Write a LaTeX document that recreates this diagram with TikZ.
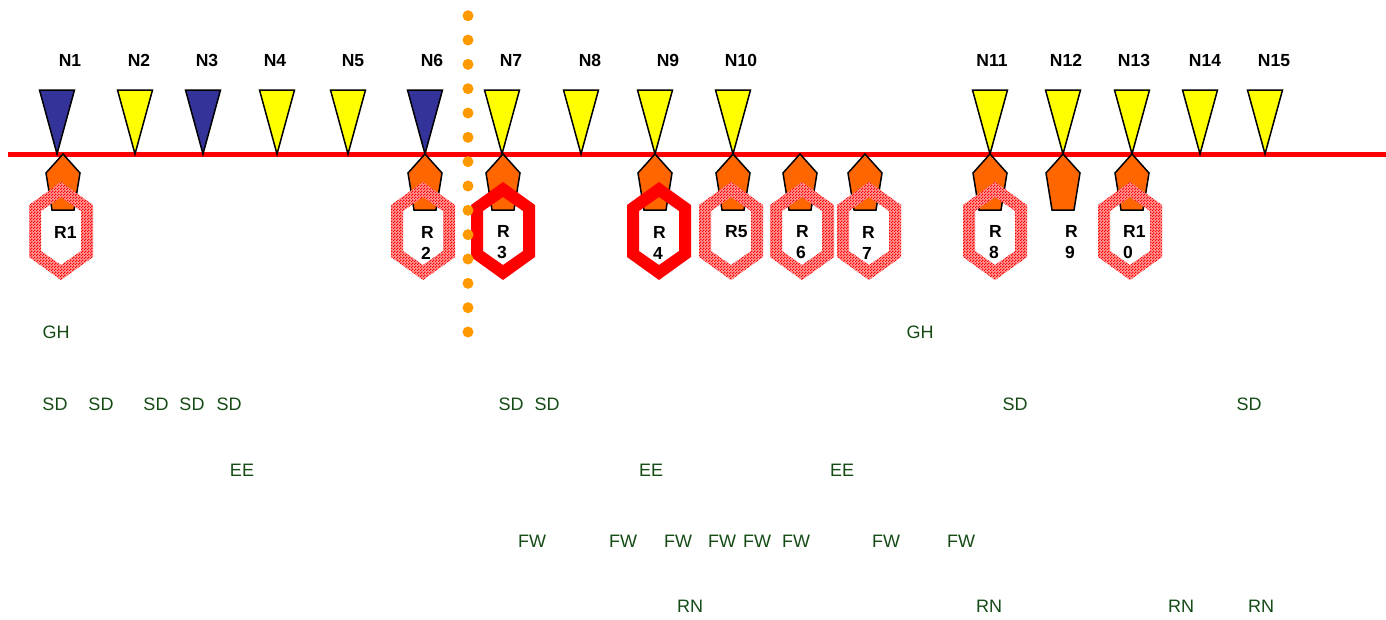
\documentclass[tikz,border=0pt]{standalone}
\usepackage{fontspec}
\setmainfont{Liberation Sans}
\usepackage{xcolor}
\usepackage{tikz}
\usetikzlibrary{patterns}
\definecolor{markblue}{RGB}{51, 51, 153}
\definecolor{markyellow}{RGB}{255, 255, 0}
\definecolor{taborange}{RGB}{255, 102, 0}
\definecolor{ringred}{RGB}{255, 0, 0}
\definecolor{dotorange}{RGB}{255, 153, 0}
\definecolor{evgreen}{RGB}{20, 75, 20}

% fine red/white checks for the hatched rings
\pgfdeclarepatternformonly{finechecks}{\pgfpointorigin}{\pgfqpoint{3pt}{3pt}}{\pgfqpoint{3pt}{3pt}}{%
  \pgfpathrectangle{\pgfpointorigin}{\pgfqpoint{1.5pt}{1.5pt}}%
  \pgfpathrectangle{\pgfqpoint{1.5pt}{1.5pt}}{\pgfqpoint{1.5pt}{1.5pt}}%
  \pgfusepath{fill}}

% marker above the track: x of tip, colour
\newcommand{\nmarker}[2]{%
  \draw[black, line width=1.5pt, fill=#2] (#1-17.5,90) -- (#1+17.5,90) -- (#1,154) -- cycle;}
% pentagon hanging below the track
\newcommand{\rtab}[1]{%
  \draw[black, line width=1.5pt, fill=taborange] (#1,154) -- (#1+17,173) -- (#1+11,210)
    -- (#1-11,210) -- (#1-17,173) -- cycle;}
% hexagon rings, hatched and solid
\newcommand{\hatchring}[1]{%
  \fill[ringred!40!white, even odd rule] (#1,182) -- (#1+32,205) -- (#1+32,257) -- (#1,280) -- (#1-32,257) -- (#1-32,205) -- cycle
    (#1,197) -- (#1+20,211) -- (#1+20,251) -- (#1,265) -- (#1-20,251) -- (#1-20,211) -- cycle;
  \fill[pattern=finechecks, pattern color=ringred, even odd rule] (#1,182) -- (#1+32,205) -- (#1+32,257) -- (#1,280)
    -- (#1-32,257) -- (#1-32,205) -- cycle
    (#1,197) -- (#1+20,211) -- (#1+20,251) -- (#1,265) -- (#1-20,251) -- (#1-20,211) -- cycle;}
\newcommand{\solidring}[1]{%
  \fill[ringred, even odd rule] (#1,182) -- (#1+32,205) -- (#1+32,257) -- (#1,280) -- (#1-32,257) -- (#1-32,205) -- cycle
    (#1,197) -- (#1+20,211) -- (#1+20,251) -- (#1,265) -- (#1-20,251) -- (#1-20,211) -- cycle;}

\begin{document}
\begin{tikzpicture}[x=1pt, y=-1pt,
    nlabel/.style={font=\fontsize{17.5}{21}\selectfont\bfseries, inner sep=0pt, anchor=base},
    rlabel/.style={font=\fontsize{17.5}{21}\selectfont\bfseries, inner sep=0pt, align=left, anchor=west},
    evlabel/.style={text=evgreen, font=\fontsize{18}{21}\selectfont, inner sep=0pt, anchor=base}]
    \fill[white] (0,0) rectangle (1386,619);
    \useasboundingbox (0,0) rectangle (1386,619);

    % Track
    \draw[ringred, line width=5pt] (8,154) -- (1386,154);

    % Markers N1 - N15
    \nmarker{57}{markblue}
    \nmarker{135}{markyellow}
    \nmarker{203}{markblue}
    \nmarker{277}{markyellow}
    \nmarker{348}{markyellow}
    \nmarker{425}{markblue}
    \nmarker{502}{markyellow}
    \nmarker{581}{markyellow}
    \nmarker{655}{markyellow}
    \nmarker{733}{markyellow}
    \nmarker{990}{markyellow}
    \nmarker{1063}{markyellow}
    \nmarker{1132}{markyellow}
    \nmarker{1200}{markyellow}
    \nmarker{1265}{markyellow}

    \node[nlabel] (n1) at (70,66.3) {N1};
    \node[nlabel] (n2) at (139,66.3) {N2};
    \node[nlabel] (n3) at (207,66.3) {N3};
    \node[nlabel] (n4) at (275,66.3) {N4};
    \node[nlabel] (n5) at (353,66.3) {N5};
    \node[nlabel] (n6) at (432,66.3) {N6};
    \node[nlabel] (n7) at (511,66.3) {N7};
    \node[nlabel] (n8) at (590,66.3) {N8};
    \node[nlabel] (n9) at (668,66.3) {N9};
    \node[nlabel] (n10) at (741,66.3) {N10};
    \node[nlabel] (n11) at (992,66.3) {N11};
    \node[nlabel] (n12) at (1066,66.3) {N12};
    \node[nlabel] (n13) at (1134,66.3) {N13};
    \node[nlabel] (n14) at (1205,66.3) {N14};
    \node[nlabel] (n15) at (1274,66.3) {N15};

    % Pentagons
    \rtab{63}
    \rtab{425}
    \rtab{503}
    \rtab{655}
    \rtab{733}
    \rtab{800}
    \rtab{865}
    \rtab{990}
    \rtab{1063}
    \rtab{1132}

    % Rings R1 - R10
    \hatchring{61}
    \hatchring{423}
    \solidring{503}
    \solidring{659}
    \hatchring{731}
    \hatchring{802}
    \hatchring{869}
    \hatchring{995}
    \hatchring{1130}

    \node[rlabel] (r1) at (54,232) {R1};
    \node[rlabel] (r2) at (421,242.5) {R\\2};
    \node[rlabel] (r3) at (497,242.5) {R\\3};
    \node[rlabel] (r4) at (653,242.5) {R\\4};
    \node[rlabel] (r5) at (725,232) {R5};
    \node[rlabel] (r6) at (796,242.5) {R\\6};
    \node[rlabel] (r7) at (862,242.5) {R\\7};
    \node[rlabel] (r8) at (989,242.5) {R\\8};
    \node[rlabel] (r9) at (1065,242.5) {R\\9};
    \node[rlabel] (r10) at (1123,242.5) {R1\\0};

    % Divider
    \draw[dotorange, line width=11pt, line cap=round, dash pattern=on 0pt off 24.33pt] (468,15.7) -- (468,333);

    % Events
    \node[evlabel] (gh1) at (56,338.5) {GH};
    \node[evlabel] (gh2) at (920,338.5) {GH};

    \node[evlabel] (sd1) at (55,410.5) {SD};
    \node[evlabel] (sd2) at (101,410.5) {SD};
    \node[evlabel] (sd3) at (156,410.5) {SD};
    \node[evlabel] (sd4) at (192,410.5) {SD};
    \node[evlabel] (sd5) at (229,410.5) {SD};
    \node[evlabel] (sd6) at (511,410.5) {SD};
    \node[evlabel] (sd7) at (547,410.5) {SD};
    \node[evlabel] (sd8) at (1015,410.5) {SD};
    \node[evlabel] (sd9) at (1249,410.5) {SD};

    \node[evlabel] (ee1) at (242,476.5) {EE};
    \node[evlabel] (ee2) at (651,476.5) {EE};
    \node[evlabel] (ee3) at (842,476.5) {EE};

    \node[evlabel] (fw1) at (532,547.5) {FW};
    \node[evlabel] (fw2) at (623,547.5) {FW};
    \node[evlabel] (fw3) at (678,547.5) {FW};
    \node[evlabel] (fw4) at (722,547.5) {FW};
    \node[evlabel] (fw5) at (757,547.5) {FW};
    \node[evlabel] (fw6) at (796,547.5) {FW};
    \node[evlabel] (fw7) at (886,547.5) {FW};
    \node[evlabel] (fw8) at (961,547.5) {FW};

    \node[evlabel] (rn1) at (690,612.5) {RN};
    \node[evlabel] (rn2) at (989,612.5) {RN};
    \node[evlabel] (rn3) at (1181,612.5) {RN};
    \node[evlabel] (rn4) at (1261,612.5) {RN};
\end{tikzpicture}
\end{document}
